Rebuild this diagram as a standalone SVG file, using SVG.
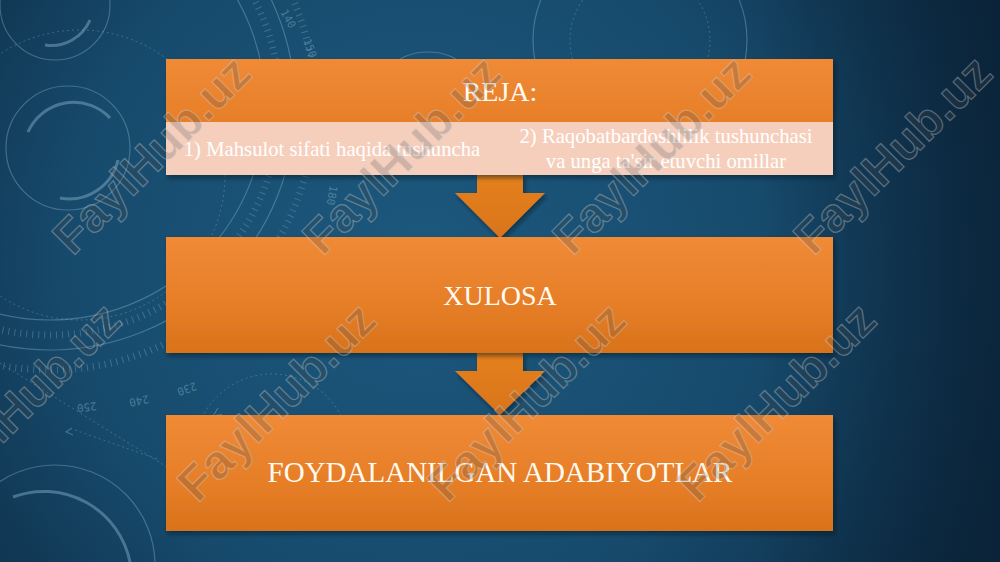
<svg xmlns="http://www.w3.org/2000/svg" width="1000" height="562" viewBox="0 0 1000 562">
  <defs>
    <radialGradient id="bg" cx="420" cy="260" r="620" gradientUnits="userSpaceOnUse">
      <stop offset="0" stop-color="#1c587d"/>
      <stop offset="0.55" stop-color="#174b6d"/>
      <stop offset="1" stop-color="#0c2941"/>
    </radialGradient>
    <linearGradient id="rightShade" x1="0" y1="0" x2="1" y2="0">
      <stop offset="0" stop-color="#081c2e" stop-opacity="0"/>
      <stop offset="1" stop-color="#081c2e" stop-opacity="0.45"/>
    </linearGradient>
    <linearGradient id="orange" x1="0" y1="0" x2="0" y2="1">
      <stop offset="0" stop-color="#f08a36"/>
      <stop offset="0.6" stop-color="#e67e27"/>
      <stop offset="1" stop-color="#d8721a"/>
    </linearGradient>
    <linearGradient id="arrowFill" x1="0" y1="0" x2="0" y2="1">
      <stop offset="0" stop-color="#e5801f"/>
      <stop offset="1" stop-color="#d9741a"/>
    </linearGradient>
    <filter id="shadow" x="-5%" y="-10%" width="110%" height="125%">
      <feDropShadow dx="2" dy="3" stdDeviation="2" flood-color="#06131f" flood-opacity="0.5"/>
    </filter>
    <style>
      .deco { fill: none; stroke: #9cc3da; stroke-opacity: 0.35; stroke-width: 1.2; }
      .deco-thick { fill: none; stroke: #9cc3da; stroke-opacity: 0.4; stroke-width: 3; }
      .dotted { fill: none; stroke: #9cc3da; stroke-opacity: 0.3; stroke-width: 1; stroke-dasharray: 2 3; }
      .ticks { fill: none; stroke: #9cc3da; stroke-opacity: 0.3; stroke-width: 7; stroke-dasharray: 1 5; }
      .dial { font-family: "DejaVu Sans Mono", monospace; font-size: 11px; fill: #9cc3da; fill-opacity: 0.4; }
      .box { fill: url(#orange); filter: url(#shadow); }
      .band { fill: #f6cfbc; }
      .title { font-family: "Liberation Serif", "Times New Roman", serif; fill: #fffaf2; text-anchor: middle; }
      .item { font-family: "Liberation Serif", "Times New Roman", serif; fill: #ffffff; text-anchor: middle; font-size: 20.7px; }
      .arrow { fill: url(#arrowFill); filter: url(#shadow); }
      .wm { font-family: "Liberation Sans", Arial, sans-serif; font-weight: bold; font-size: 48px; fill: #4a4a4a; fill-opacity: 0.22; stroke: #d8d8d8; stroke-opacity: 0.35; stroke-width: 1.3; text-anchor: middle; }
    </style>
  </defs>

  <!-- background -->
  <rect x="0" y="0" width="1000" height="562" fill="url(#bg)"/>
  <rect x="760" y="0" width="240" height="562" fill="url(#rightShade)"/>

  <!-- decorative dial elements -->
  <g id="background-decor">
    <circle class="deco" cx="50" cy="105" r="215"/>
    <circle class="deco" cx="50" cy="105" r="245"/>
    <circle class="ticks" cx="50" cy="105" r="230"/>
    <circle class="ticks" cx="50" cy="105" r="265"/>
    <circle class="deco" cx="68" cy="148" r="62"/>
    <path class="deco-thick" d="M 28 132 A 50 50 0 0 1 110 118"/>
    <path class="deco-thick" d="M 60 198 A 50 50 0 0 0 118 160"/>
    <circle class="dotted" cx="80" cy="175" r="145"/>
    <circle class="deco" cx="55" cy="5" r="55"/>
    <path class="deco-thick" d="M 45 45 A 42 42 0 0 0 90 20"/>
    <circle class="deco" cx="640" cy="40" r="107"/>
    <circle class="dotted" cx="640" cy="40" r="70"/>
    <circle class="deco" cx="428" cy="110" r="58"/>
    <circle class="deco" cx="55" cy="565" r="100"/>
    <path class="deco-thick" d="M 13 497 A 88 88 0 0 1 130 562"/>
    <path class="dotted" d="M 0 363 L 167 467"/>
    <path class="dotted" d="M 75 430 L 160 460"/>
    <circle class="dotted" cx="272" cy="452" r="78"/>
    <path class="deco" d="M 218 408 l -5 8 l 9 -2"/>
    <path class="deco" d="M 72 428 l -6 4 l 7 3"/>
    <text class="dial" transform="translate(96,402) rotate(172)">250</text>
    <text class="dial" transform="translate(148,395) rotate(168)">240</text>
    <text class="dial" transform="translate(195,382) rotate(160)">230</text>
    <text class="dial" transform="translate(280,12) rotate(60)">140</text>
    <text class="dial" transform="translate(303,40) rotate(70)">150</text>
    <text class="dial" transform="translate(330,185) rotate(100)">180</text>
  </g>

  <!-- connectors -->
  <g id="connectors">
    <polygon class="arrow" points="477,175 523,175 523,193 545,193 500,238 455,193 477,193"/>
    <polygon class="arrow" points="477,353 523,353 523,371 545,371 500,415 455,371 477,371"/>
  </g>

  <!-- node: REJA -->
  <g id="node-reja">
    <rect class="box" x="166" y="59" width="667" height="116"/>
    <rect class="band" x="166" y="122" width="667" height="53"/>
    <text class="title" x="500" y="101" font-size="28">REJA:</text>
    <text class="item" x="332" y="156">1) Mahsulot sifati haqida tushuncha</text>
    <text class="item" x="666" y="143">2) Raqobatbardoshlilik tushunchasi</text>
    <text class="item" x="666" y="168">va unga ta'sir etuvchi omillar</text>
  </g>

  <!-- node: XULOSA -->
  <g id="node-xulosa">
    <rect class="box" x="166" y="237" width="667" height="116"/>
    <text class="title" x="500" y="305" font-size="28">XULOSA</text>
  </g>

  <!-- node: FOYDALANILGAN ADABIYOTLAR -->
  <g id="node-adabiyotlar">
    <rect class="box" x="166" y="415" width="667" height="116"/>
    <text class="title" x="500" y="482" font-size="29">FOYDALANILGAN ADABIYOTLAR</text>
  </g>

  <!-- watermarks -->
  <g id="watermarks">
    <text class="wm" transform="translate(152,155) rotate(-45)" dy="16">FaylHub.uz</text>
    <text class="wm" transform="translate(402,155) rotate(-45)" dy="16">FaylHub.uz</text>
    <text class="wm" transform="translate(652,155) rotate(-45)" dy="16">FaylHub.uz</text>
    <text class="wm" transform="translate(893,155) rotate(-45)" dy="16">FaylHub.uz</text>
    <text class="wm" transform="translate(22,402) rotate(-45)" dy="16">FaylHub.uz</text>
    <text class="wm" transform="translate(277,402) rotate(-45)" dy="16">FaylHub.uz</text>
    <text class="wm" transform="translate(527,402) rotate(-45)" dy="16">FaylHub.uz</text>
    <text class="wm" transform="translate(777,402) rotate(-45)" dy="16">FaylHub.uz</text>
  </g>
</svg>
